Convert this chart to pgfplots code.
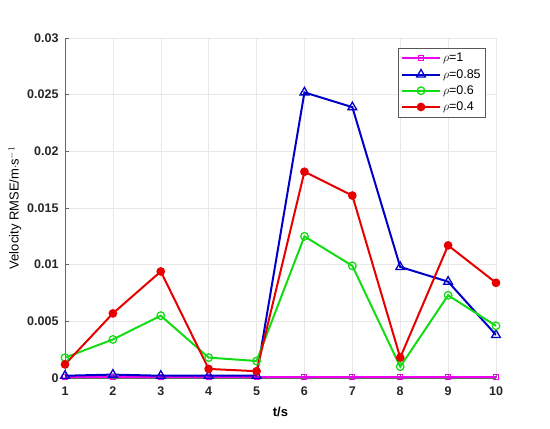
\documentclass[border=0pt]{standalone}
\usepackage{fontspec}
\setmainfont{Liberation Sans}
\usepackage{pgfplots}
\pgfplotsset{compat=1.18}
\definecolor{cmag}{RGB}{240,0,240}
\definecolor{cblue}{RGB}{0,0,200}
\definecolor{cgreen}{RGB}{20,220,20}
\definecolor{cred}{RGB}{230,0,0}
\begin{document}
\begin{tikzpicture}
\begin{axis}[
  scale only axis,
  width=431pt, height=340pt,
  xmin=1, xmax=10, ymin=0, ymax=0.03,
  xtick={1,...,10},
  ytick={0,0.005,0.01,0.015,0.02,0.025,0.03},
  scaled y ticks=false,
  /pgf/number format/assume math mode=true,
  yticklabel style={/pgf/number format/fixed,/pgf/number format/precision=3, xshift=-3pt},
  xticklabel style={yshift=-5pt},
  tick label style={font=\fontsize{12.5}{14}\selectfont\bfseries, text=black!85},
  axis x line*=bottom, axis y line*=left,
  axis line style={gray!80!black, line width=0.6pt},
  x axis line style={-}, y axis line style={-},
  tick style={gray!80!black, line width=0.5pt},
  tick align=inside,
  major tick length=4pt,
  grid=major,
  major grid style={gray!18, line width=0.5pt},
  xlabel={t/s},
  xlabel style={font=\fontsize{13}{15}\selectfont\bfseries, yshift=-5pt},
  ylabel={Velocity RMSE/m$\cdot$s$^{-1}$},
  ylabel style={font=\fontsize{13}{15}\selectfont, yshift=-1pt},
  legend style={at={(1,1)}, anchor=north east, xshift=-10pt, yshift=-10pt,
    font=\fontsize{12.5}{14}\selectfont, draw=gray!70!black, line width=0.6pt,
    row sep=2pt, inner sep=3pt},
  legend cell align=left,
  legend image code/.code={\draw[mark repeat=2,mark phase=2] plot coordinates {(0pt,0pt)(19pt,0pt)(38pt,0pt)};},
  every axis plot/.append style={line width=2pt},
]
\addplot[cmag, mark=square, mark size=2.5pt, mark options={line width=1pt}] coordinates {
(1,0.0001)(2,0.0001)(3,0.0001)(4,0.0001)(5,0.0001)(6,0.0001)(7,0.0001)(8,0.0001)(9,0.0001)(10,0.0001)};
\addlegendentry{$\rho$=1}
\addplot[cblue, mark=triangle, mark size=5pt, mark options={line width=1.3pt}] coordinates {
(1,0.0002)(2,0.0003)(3,0.0002)(4,0.0002)(5,0.0002)(6,0.0252)(7,0.0239)(8,0.0098)(9,0.0085)(10,0.0038)};
\addlegendentry{$\rho$=0.85}
\addplot[cgreen, mark=o, mark size=3.8pt, mark options={line width=1.3pt}] coordinates {
(1,0.0018)(2,0.0034)(3,0.0055)(4,0.0018)(5,0.0015)(6,0.0125)(7,0.0099)(8,0.0010)(9,0.0073)(10,0.0046)};
\addlegendentry{$\rho$=0.6}
\addplot[cred, mark=*, mark size=3.3pt] coordinates {
(1,0.0012)(2,0.0057)(3,0.0094)(4,0.0008)(5,0.0006)(6,0.0182)(7,0.0161)(8,0.0018)(9,0.0117)(10,0.0084)};
\addlegendentry{$\rho$=0.4}
\end{axis}
\path (current axis.south west) ++(-65pt,-50pt);
\path (current axis.north east) ++(54pt,38pt);
\end{tikzpicture}
\end{document}
